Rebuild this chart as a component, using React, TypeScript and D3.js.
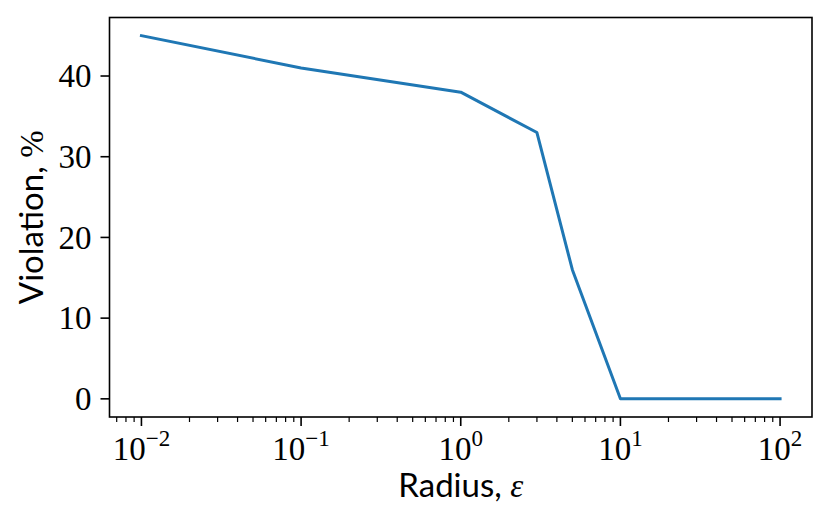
import React from "react";
import * as d3 from "d3";

// radius epsilon (log scale) and violation in percent
const radius = [0.01, 0.1, 1, 3, 5, 10, 100];
const violation = [45, 41, 38, 33, 16, 0, 0];
const xTickExponents = [-2, -1, 0, 1, 2];
const yTicks = [0, 10, 20, 30, 40];

const width = 830;
const height = 524;
const margin = { top: 17.5, right: 18, bottom: 107, left: 109.5 };

const serif = "'Liberation Serif', 'DejaVu Serif', serif";
const sans = "Lato, 'Open Sans', sans-serif";

export default function App() {
  const x = d3
    .scaleLog()
    .domain([Math.pow(10, -2.2), Math.pow(10, 2.2)])
    .range([margin.left, width - margin.right]);
  const y = d3
    .scaleLinear()
    .domain([-2.25, 47.25])
    .range([height - margin.bottom, margin.top]);

  const line = d3
    .line<number>()
    .x((_, i) => x(radius[i]))
    .y((d) => y(d));

  const [d0, d1] = x.domain();
  const minorTicks: number[] = [];
  for (let e = -3; e <= 2; e++) {
    for (let m = 2; m <= 9; m++) {
      const v = m * Math.pow(10, e);
      if (v >= d0 && v <= d1) minorTicks.push(v);
    }
  }

  const bottom = height - margin.bottom;
  const left = margin.left;

  return (
    <svg
      width={width}
      height={height}
      style={{ position: "absolute", left: 0, top: 0, background: "#fff" }}
    >
      <rect x={0} y={0} width={width} height={height} fill="#fff" />
      <path
        d={line(violation) ?? ""}
        fill="none"
        stroke="#1f77b4"
        strokeWidth={3}
        strokeLinejoin="round"
        strokeLinecap="square"
      />

      {/* frame */}
      <rect
        x={margin.left}
        y={margin.top}
        width={width - margin.left - margin.right}
        height={height - margin.top - margin.bottom}
        fill="none"
        stroke="#000"
        strokeWidth={1.6}
      />

      {/* x axis */}
      {minorTicks.map((t) => (
        <line key={"m" + t} x1={x(t)} x2={x(t)} y1={bottom} y2={bottom + 5} stroke="#000" strokeWidth={1.2} />
      ))}
      {xTickExponents.map((e) => {
        const px = x(Math.pow(10, e));
        return (
          <g key={"x" + e}>
            <line x1={px} x2={px} y1={bottom} y2={bottom + 9} stroke="#000" strokeWidth={1.6} />
            <text x={px} y={bottom + 43} textAnchor="middle" fontFamily={serif} fontSize={33} fill="#000">
              10
              <tspan fontSize={23} dy={-14}>
                {e < 0 ? "\u2212" + Math.abs(e) : String(e)}
              </tspan>
            </text>
          </g>
        );
      })}

      {/* y axis */}
      {yTicks.map((t) => (
        <g key={"y" + t}>
          <line x1={left - 9} x2={left} y1={y(t)} y2={y(t)} stroke="#000" strokeWidth={1.6} />
          <text
            x={left - 18}
            y={y(t)}
            dy="0.34em"
            textAnchor="end"
            fontFamily={serif}
            fontSize={33}
            fill="#000"
          >
            {t}
          </text>
        </g>
      ))}

      {/* labels */}
      <text
        x={(margin.left + width - margin.right) / 2}
        y={497}
        textAnchor="middle"
        fontFamily={sans}
        fontSize={33}
        fill="#000"
      >
        Radius,{" "}
        <tspan fontFamily={serif} fontStyle="italic">
          ε
        </tspan>
      </text>
      <text
        transform={`translate(43, ${(margin.top + bottom) / 2}) rotate(-90)`}
        textAnchor="middle"
        fontFamily={sans}
        fontSize={33}
        fill="#000"
      >
        Violation,{" "}
        <tspan fontFamily={serif}>%</tspan>
      </text>
    </svg>
  );
}
